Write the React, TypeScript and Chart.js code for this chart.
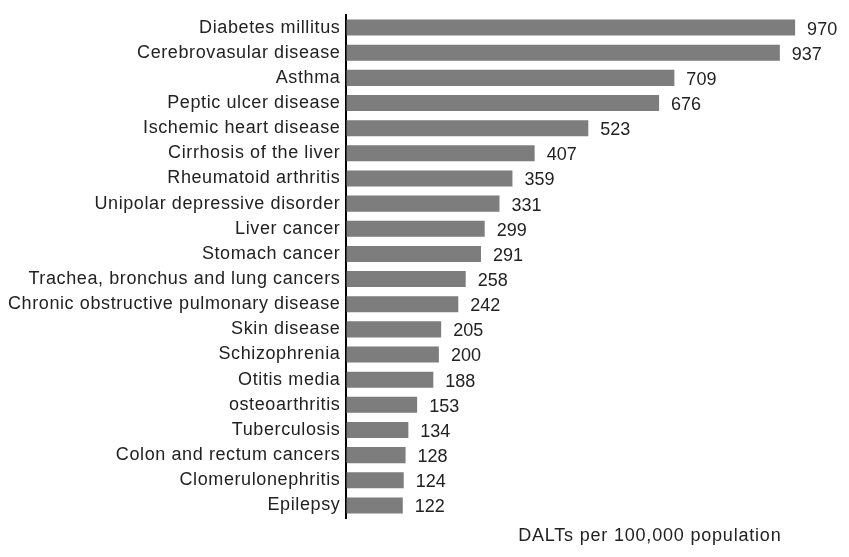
import React, { useEffect, useRef } from "react";
import { Chart, registerables } from "chart.js";

Chart.register(...registerables);

const categories = [
  "Diabetes millitus",
  "Cerebrovasular disease",
  "Asthma",
  "Peptic ulcer disease",
  "Ischemic heart disease",
  "Cirrhosis of the liver",
  "Rheumatoid arthritis",
  "Unipolar depressive disorder",
  "Liver cancer",
  "Stomach cancer",
  "Trachea, bronchus and lung cancers",
  "Chronic obstructive pulmonary disease",
  "Skin disease",
  "Schizophrenia",
  "Otitis media",
  "osteoarthritis",
  "Tuberculosis",
  "Colon and rectum cancers",
  "Clomerulonephritis",
  "Epilepsy",
];

const values = [970, 937, 709, 676, 523, 407, 359, 331, 299, 291, 258, 242, 205, 200, 188, 153, 134, 128, 124, 122];

const axisTitle = "DALTs per 100,000 population";

const FONT = "'Liberation Sans', Arial, sans-serif";
const SPACING = "0.6px";

const spacingPlugin = {
  id: "spacing",
  beforeUpdate(chart: any) {
    chart.ctx.letterSpacing = SPACING;
  },
  beforeDraw(chart: any) {
    chart.ctx.letterSpacing = SPACING;
  },
};

const valueLabelPlugin = {
  id: "valueLabels",
  afterDatasetsDraw(chart: any) {
    const ctx = chart.ctx;
    const meta = chart.getDatasetMeta(0);
    ctx.save();
    ctx.letterSpacing = "0px";
    ctx.font = `18px ${FONT}`;
    ctx.fillStyle = "#222222";
    ctx.textAlign = "left";
    ctx.textBaseline = "middle";
    meta.data.forEach((bar: any, i: number) => {
      ctx.fillText(String(values[i]), bar.x + 12, bar.y + 2);
    });
    // axis title
    const xs = chart.scales.x;
    ctx.letterSpacing = "0.8px";
    ctx.textAlign = "center";
    ctx.fillText(axisTitle, xs.getPixelForValue(656), 536);
    ctx.restore();
  },
};

export default function App() {
  const ref = useRef<HTMLCanvasElement | null>(null);
  useEffect(() => {
    if (!ref.current) return;
    const chart = new Chart(ref.current, {
      type: "bar",
      data: {
        labels: categories,
        datasets: [
          {
            data: values,
            backgroundColor: "#7d7d7d",
            borderWidth: 0,
            categoryPercentage: 0.8,
            barPercentage: 0.8,
          },
        ],
      },
      options: {
        indexAxis: "y",
        animation: false,
        responsive: false,
        maintainAspectRatio: false,
        layout: { padding: { left: 2, top: 12, bottom: 31, right: 40 } },
        plugins: {
          legend: { display: false },
          tooltip: { enabled: false },
        },
        scales: {
          x: {
            min: 0,
            max: 1000,
            display: true,
            ticks: { display: false },
            grid: { display: false },
            border: { display: false },
          },
          y: {
            ticks: {
              color: "#222222",
              font: { family: FONT, size: 18, lineHeight: 1.0 },
              padding: 6,
              autoSkip: false,
            },
            grid: { display: false, drawTicks: false },
            border: { display: true, color: "#000000", width: 2 },
          },
        },
      },
      plugins: [spacingPlugin, valueLabelPlugin],
    });
    return () => chart.destroy();
  }, []);
  return (
    <div style={{ position: "absolute", left: 0, top: 0, width: 849, height: 557, background: "#fff" }}>
      <canvas ref={ref} width={849} height={557} />
    </div>
  );
}
